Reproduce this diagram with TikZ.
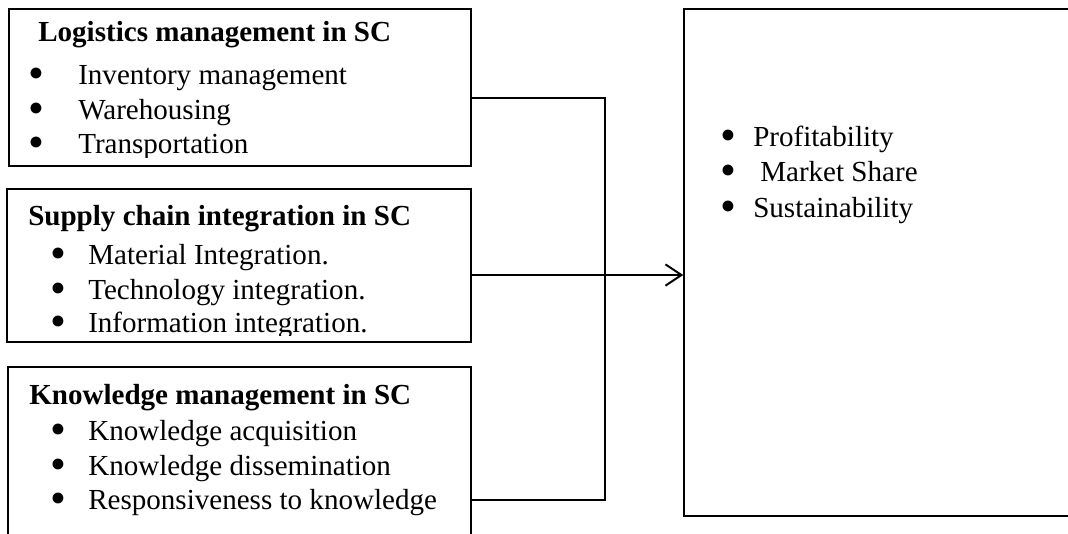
\documentclass[tikz,border=0pt]{standalone}
\usepackage{fontspec}
\setmainfont{Liberation Serif}
\usetikzlibrary{fit,arrows.meta}
\newcommand{\bulmark}{\smash{\textbullet}}
\begin{document}
\begin{tikzpicture}[x=0.75pt,y=-0.75pt,
  box/.style={draw, line width=1.125pt, inner sep=0pt},
  txt/.style={anchor=base west, inner sep=0pt, font=\fontsize{21.8}{26}\selectfont},
  bul/.style={anchor=base, inner sep=0pt, yshift=-3pt, font=\fontsize{34}{34}\selectfont},
  ttl/.style={txt, font=\fontsize{21.8}{26}\selectfont\bfseries},
  conn/.style={draw, line width=0.9pt},
  arr/.style={draw, line width=1.5pt, -{Straight Barb[length=12pt,width=16pt]}}]
\useasboundingbox (0,0) rectangle (1068,533);
\clip (0,0) rectangle (1068,533);
\fill[white] (0,0) rectangle (1068,533);
% boxes
\node[box, fit={(9,9) (471,166)}] (b1) {};
\node[box, fit={(7,189) (471,342)}] (b2) {};
\node[box, fit={(8,367) (471,560)}] (b3) {};
\node[box, fit={(684,9) (1100,516)}] (r) {};
% box 1 text
\begin{scope}
\clip (9,9) rectangle (471,157);
\node[ttl] (t1) at (38,41) {Logistics management in SC};
\node[bul] (p11) at (36,84) {\bulmark};
\node[txt] (i11) at (78,84) {Inventory management};
\node[bul] (p12) at (36,119) {\bulmark};
\node[txt] (i12) at (78,119) {Warehousing};
\node[bul] (p13) at (36,153) {\bulmark};
\node[txt] (i13) at (78,153) {Transportation};
\end{scope}
% box 2 text
\begin{scope}
\clip (7,189) rectangle (471,335);
\node[ttl] (t2) at (28,225) {Supply chain integration in SC};
\node[bul] (p21) at (58,264) {\bulmark};
\node[txt] (i21) at (88,264) {Material Integration.};
\node[bul] (p22) at (58,299) {\bulmark};
\node[txt] (i22) at (88,299) {Technology integration.};
\node[bul] (p23) at (58,332) {\bulmark};
\node[txt] (i23) at (88,332) {Information integration.};
\end{scope}
% box 3 text
\node[ttl] (t3) at (29,404) {Knowledge management in SC};
\node[bul] (p31) at (58,440) {\bulmark};
\node[txt] (i31) at (88,440) {Knowledge acquisition};
\node[bul] (p32) at (58,475) {\bulmark};
\node[txt] (i32) at (88,475) {Knowledge dissemination};
\node[bul] (p33) at (58,509) {\bulmark};
\node[txt] (i33) at (88,509) {Responsiveness to knowledge};
% right box text
\node[bul] (p41) at (728,146) {\bulmark};
\node[txt] (i41) at (753,146) {Profitability};
\node[bul] (p42) at (728,181) {\bulmark};
\node[txt] (i42) at (760,181) {Market Share};
\node[bul] (p43) at (728,217) {\bulmark};
\node[txt] (i43) at (753,217) {Sustainability};
% connectors
\coordinate (j1) at (605,98);
\coordinate (j3) at (605,500);
\coordinate (ay) at (0,275);
\draw[conn] (b1.east |- j1) -- (j1) -- (j3) -- (b3.east |- j3);
\draw[arr] (b2.east |- ay) -- (r.west |- ay);
\end{tikzpicture}
\end{document}
